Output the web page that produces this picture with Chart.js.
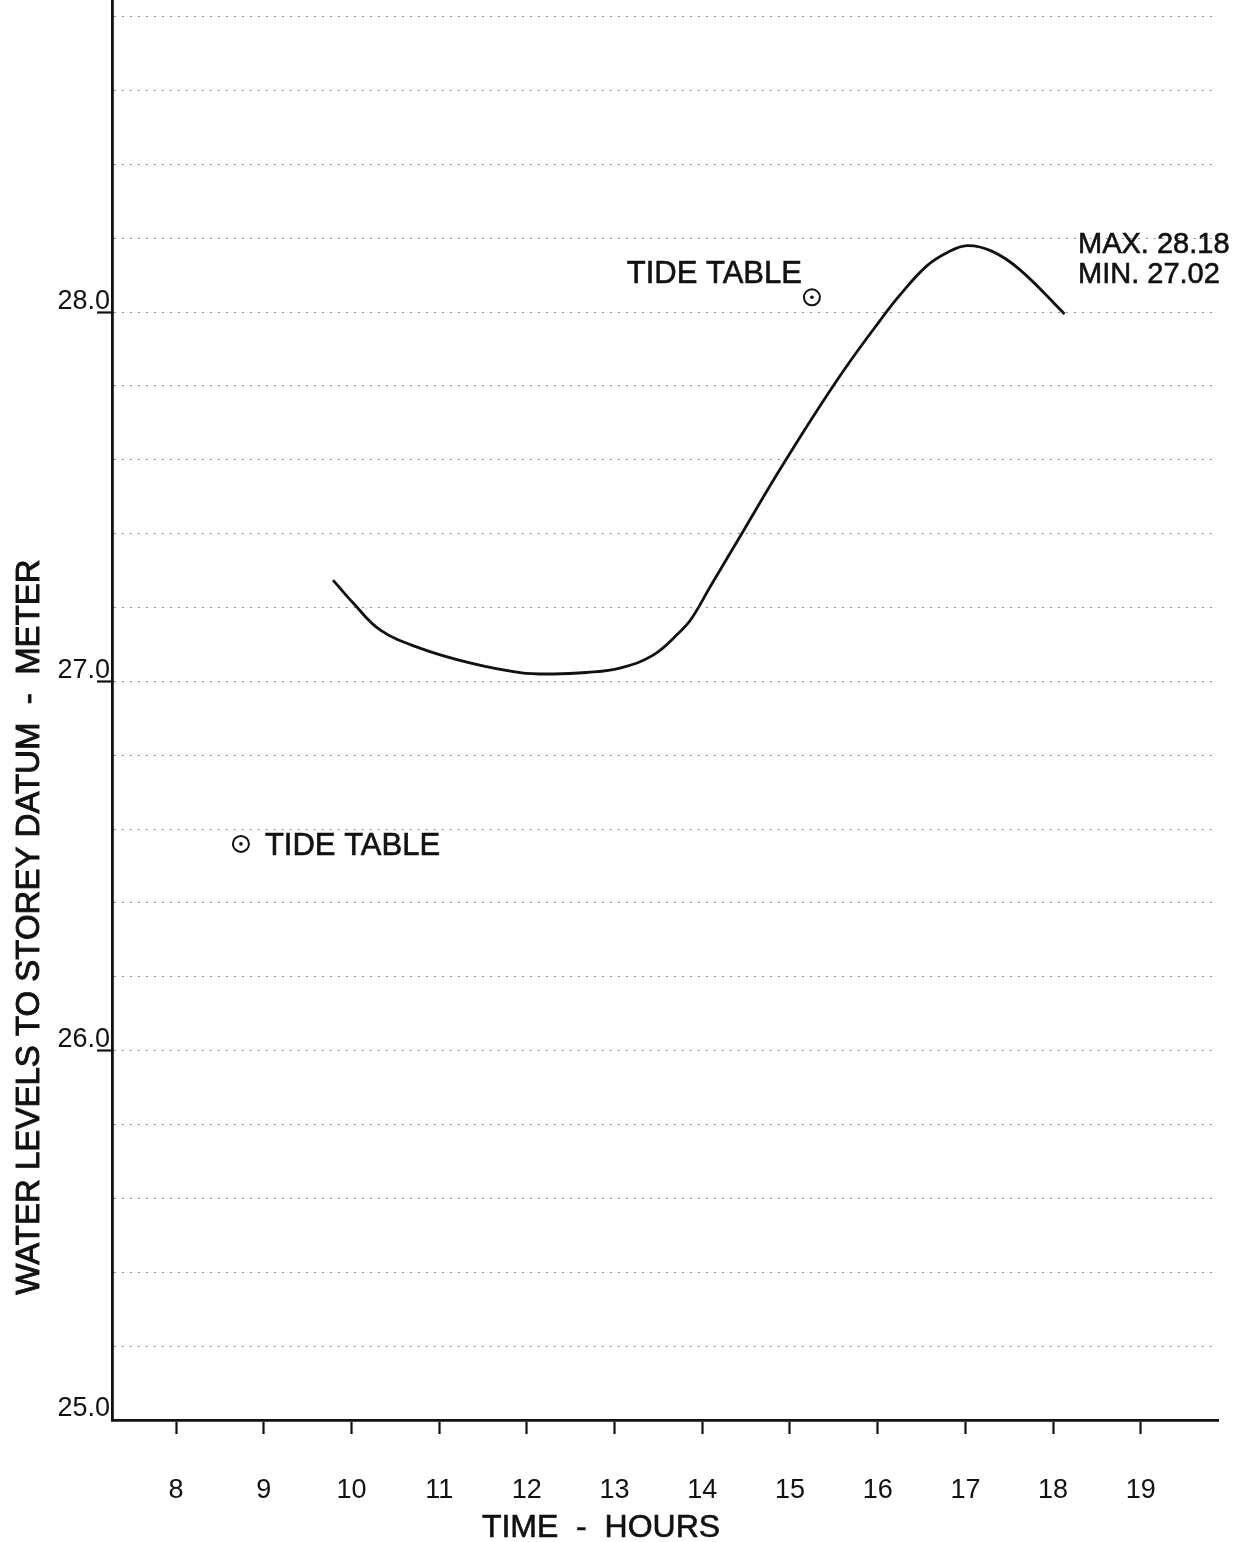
<!DOCTYPE html>
<html>
<head>
<meta charset="utf-8">
<title>Water levels to Storey datum</title>
<script src="https://cdn.jsdelivr.net/npm/chart.js@4/dist/chart.umd.min.js"></script>
<style>
  html, body { margin: 0; padding: 0; background: #ffffff; }
  #wrap { width: 1236px; height: 1542px; position: relative; }
</style>
</head>
<body>
<div id="wrap"><canvas id="tide"></canvas></div>
<script>
// Recorded water level (m, Storey datum) against time of day (hours)
const hours  = [9.79, 10.02, 10.33, 10.78, 11.35, 11.92, 12.30, 12.68, 13.06, 13.44, 13.74, 13.88,
                14.09, 14.47, 14.85, 15.25, 15.63, 16.02, 16.25, 16.56, 16.80, 17.02, 17.30, 17.62, 18.13];
const levels = [27.274, 27.212, 27.139, 27.090, 27.050, 27.024, 27.020, 27.024, 27.036, 27.071, 27.133, 27.171,
                27.256, 27.408, 27.560, 27.712, 27.848, 27.975, 28.045, 28.125, 28.162, 28.180, 28.165, 28.115, 27.995];

// Tide table predictions
const tideHours  = [8.74, 15.25];
const tideLevels = [26.56, 28.04];

// Axis ticks
const hourTicks   = [8, 9, 10, 11, 12, 13, 14, 15, 16, 17, 18, 19];
const levelLabels = ['25.0', '26.0', '27.0', '28.0'];
const gridLevels  = [25.0, 25.2, 25.4, 25.6, 25.8, 26.0, 26.2, 26.4, 26.6, 26.8, 27.0, 27.2, 27.4,
                     27.6, 27.8, 28.0, 28.2, 28.4, 28.6, 28.8];

const statsText = ['MAX. 28.18', 'MIN. 27.02'];

const FONT = "'Liberation Sans', Arial, sans-serif";

const levelSeries = hours.map((h, i) => ({ x: h, y: levels[i] }));
const tideSeries  = tideHours.map((h, i) => ({ x: h, y: tideLevels[i] }));

const isLabelled = v => levelLabels.includes(v.toFixed(1));

// Slightly heavier lettering than a plain fill
function letter(ctx, text, x, y) {
  ctx.fillText(text, x, y);
  ctx.strokeText(text, x, y);
}

// Titles and notes written on the sheet
const notes = {
  id: 'notes',
  afterDraw(chart) {
    const { ctx, scales: { x, y }, chartArea } = chart;
    ctx.save();
    ctx.fillStyle = '#111';
    ctx.strokeStyle = '#111';
    ctx.lineWidth = 0.6;

    // tide table labels beside their markers
    const p1 = { x: x.getPixelForValue(tideHours[1]), y: y.getPixelForValue(tideLevels[1]) };
    const p0 = { x: x.getPixelForValue(tideHours[0]), y: y.getPixelForValue(tideLevels[0]) };
    ctx.font = `31px ${FONT}`;
    ctx.textBaseline = 'alphabetic';
    ctx.textAlign = 'right';
    letter(ctx, 'TIDE TABLE', p1.x - 10, p1.y - 14);
    ctx.textAlign = 'left';
    letter(ctx, 'TIDE TABLE', p0.x + 24, p0.y + 11);

    // max / min summary
    ctx.font = `29px ${FONT}`;
    ctx.textAlign = 'left';
    letter(ctx, statsText[0], chartArea.right - 140, 253);
    letter(ctx, statsText[1], chartArea.right - 140, 283);

    // axis titles
    ctx.font = `32px ${FONT}`;
    ctx.textAlign = 'center';
    letter(ctx, 'TIME  -  HOURS', 601, 1537);

    ctx.translate(39, 927);
    ctx.rotate(-Math.PI / 2);
    ctx.font = `33px ${FONT}`;
    ctx.lineWidth = 0.9;
    letter(ctx, 'WATER LEVELS TO STOREY DATUM  -  METER', 0, 0);
    ctx.restore();
  }
};

new Chart(document.getElementById('tide'), {
  type: 'line',
  data: {
    datasets: [
      {
        label: 'Water level',
        data: levelSeries,
        borderColor: '#111',
        borderWidth: 2.8,
        pointRadius: 0,
        tension: 0.4,
        fill: false
      },
      {
        label: 'Tide table',
        data: tideSeries,
        showLine: false,
        pointRadius: 8,
        pointBorderWidth: 2,
        pointBorderColor: '#111',
        pointBackgroundColor: 'rgba(0,0,0,0)'
      },
      {
        label: 'Tide table centre',
        data: tideSeries,
        showLine: false,
        pointRadius: 1.8,
        pointBorderWidth: 0,
        pointBackgroundColor: '#111'
      }
    ]
  },
  options: {
    responsive: true,
    maintainAspectRatio: false,
    animation: false,
    layout: { autoPadding: false, padding: { left: 0, right: 18, top: 0, bottom: 0 } },
    plugins: { legend: { display: false }, tooltip: { enabled: false } },
    scales: {
      x: {
        type: 'linear',
        min: 7.27,
        max: 19.88,
        afterBuildTicks: s => { s.ticks = hourTicks.map(v => ({ value: v })); },
        afterFit: s => { s.height = 122; s.paddingLeft = 0; s.paddingRight = 0; },
        grid: {
          drawOnChartArea: false,
          drawTicks: true,
          tickLength: 14,
          tickWidth: 2.2,
          tickColor: '#111'
        },
        border: { display: true, color: '#111', width: 2.8 },
        ticks: {
          autoSkip: false,
          maxRotation: 0,
          padding: 40,
          color: '#111',
          font: { family: FONT, size: 27 },
          callback: v => String(v)
        }
      },
      y: {
        type: 'linear',
        min: 25.0,
        max: 28.845,
        afterBuildTicks: s => { s.ticks = gridLevels.map(v => ({ value: v })); },
        afterFit: s => { s.width = 112; s.paddingTop = 0; s.paddingBottom = 0; },
        grid: {
          drawOnChartArea: true,
          color: '#8a8a8a',
          lineWidth: 1,
          drawTicks: true,
          tickLength: 15,
          tickWidth: 2.2,
          tickColor: c => (c.tick && isLabelled(c.tick.value) && c.tick.value > 25) ? '#111' : 'rgba(0,0,0,0)'
        },
        border: { display: true, color: '#111', width: 2.8, dash: [2, 6] },
        ticks: {
          autoSkip: false,
          padding: -13,
          labelOffset: -11,
          color: '#111',
          font: { family: FONT, size: 27 },
          callback: v => isLabelled(v) ? v.toFixed(1) : ''
        }
      }
    }
  },
  plugins: [notes]
});
</script>
</body>
</html>
